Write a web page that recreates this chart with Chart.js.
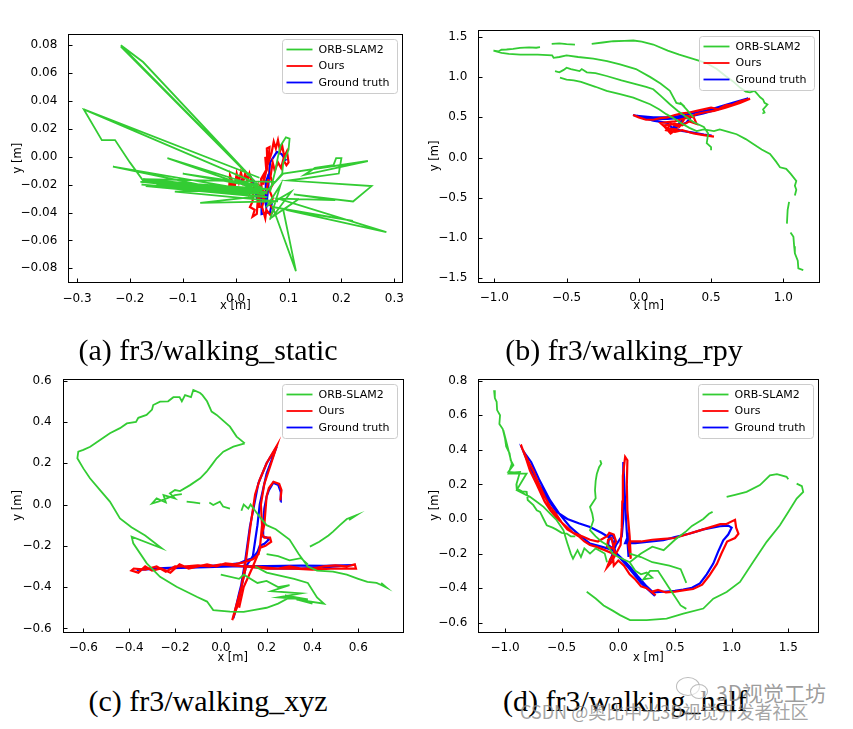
<!DOCTYPE html>
<html>
<head>
<meta charset="utf-8">
<script src="https://cdn.jsdelivr.net/npm/chart.js@4.4.1/dist/chart.umd.min.js"></script>
<style>
body{margin:0;background:#fff;width:853px;height:729px;overflow:hidden;position:relative}
.panel{position:absolute}
.cap{position:absolute;font-family:"Liberation Serif",serif;font-size:30px;line-height:34px;text-align:center;white-space:nowrap;color:#000}
.wm{position:absolute;font-family:"Noto Sans CJK SC",sans-serif;white-space:nowrap}
</style>
</head>
<body>
<div class="panel" style="left:0;top:20px"><canvas id="c1" width="420" height="300"></canvas></div>
<div class="panel" style="left:420px;top:20px"><canvas id="c2" width="433" height="300"></canvas></div>
<div class="panel" style="left:0;top:365px"><canvas id="c3" width="420" height="300"></canvas></div>
<div class="panel" style="left:420px;top:365px"><canvas id="c4" width="433" height="300"></canvas></div>

<div class="cap" style="left:8px;width:400px;top:333px">(a) fr3/walking_static</div>
<div class="cap" style="left:424px;width:400px;top:333px">(b) fr3/walking_rpy</div>
<div class="cap" style="left:8px;width:400px;top:684px">(c) fr3/walking_xyz</div>
<div class="cap" style="left:425px;width:400px;top:684px">(d) fr3/walking_half</div>

<div class="wm" style="left:676px;top:677px;width:22px;height:17px;border:1.5px solid #bbb;border-radius:50%;"></div>
<div class="wm" style="left:690px;top:684px;width:16px;height:13px;border:1.5px solid #bbb;border-radius:50%;background:rgba(255,255,255,0.6)"></div>
<div class="wm" style="left:716px;top:678px;font-size:21px;line-height:28px;color:rgba(140,140,140,0.85)">3D视觉工坊</div>
<div class="wm" style="left:520px;top:698px;font-size:18px;line-height:26px;color:rgba(140,140,140,0.8)">CSDN @奥比中光3D视觉开发者社区</div>

<script>
// ---- (a) fr3/walking_static ----
const staticXTicks = [-0.3, -0.2, -0.1, 0.0, 0.1, 0.2, 0.3];
const staticYTicks = [-0.08, -0.06, -0.04, -0.02, 0.0, 0.02, 0.04, 0.06, 0.08];
const staticOrb = [
  [0.065,-0.025],[0.075,-0.01],[0.08,0.0],[0.085,0.008],[0.095,0.014],[0.102,0.013],[0.1,0.005],[0.09,-0.004],[0.088,-0.012],[0.075,-0.018],
  [-0.175,-0.016],[0.05,-0.024],[-0.18,-0.018],[0.045,-0.026],[-0.178,-0.02],[0.055,-0.027],[-0.16,-0.017],[0.04,-0.023],[-0.17,-0.021],[0.06,-0.029],[-0.15,-0.02],[0.03,-0.025],[-0.14,-0.022],[0.02,-0.027],
  [-0.232,-0.007],[0.06,-0.026],[-0.129,-0.001],[0.05,-0.022],[-0.1,-0.012],[0.04,-0.02],
  [0.035,-0.017],[-0.217,0.080],[-0.175,0.068],[0.03,-0.015],[-0.217,0.079],[0.04,-0.019],
  [-0.287,0.034],[0.045,-0.015],[-0.287,0.034],[-0.253,0.012],[-0.228,0.012],[-0.2,-0.004],[-0.175,-0.017],[0.06,-0.023],
  [-0.115,-0.025],[0.08,-0.032],[-0.067,-0.033],[0.05,-0.028],
  [0.09,-0.012],[0.25,-0.003],[0.13,-0.013],[0.15,-0.008],[0.185,-0.006],[0.19,-0.001],[0.2,-0.001],[0.195,-0.012],[0.1,-0.017],
  [0.257,-0.021],[0.222,-0.032],[0.11,-0.027],[0.188,-0.031],[0.08,-0.03],
  [0.285,-0.054],[0.095,-0.038],[0.222,-0.046],[0.07,-0.036],[0.114,-0.082],[0.09,-0.038],[0.12,-0.03],[0.07,-0.043],[0.105,-0.025],[0.06,-0.035],[0.085,-0.02],[0.065,-0.045]
];
const staticOurs = [
  [-0.013,-0.026],[-0.011,-0.015],[-0.006,-0.025],[-0.008,-0.016],[-0.002,-0.022],[0.002,-0.012],[0.006,-0.018],[0.01,-0.011],[0.014,-0.018],[0.018,-0.012],
  [0.022,-0.017],[0.026,-0.012],[0.03,-0.018],[0.027,-0.026],[0.034,-0.022],[0.032,-0.032],[0.027,-0.036],[0.036,-0.038],[0.032,-0.043],[0.04,-0.041],
  [0.042,-0.03],[0.046,-0.036],[0.045,-0.022],[0.05,-0.028],[0.048,-0.016],[0.054,-0.012],[0.052,-0.02],[0.058,-0.01],[0.056,0.0],[0.06,-0.006],
  [0.059,0.006],[0.064,0.007],[0.062,-0.004],[0.068,0.003],[0.072,0.011],[0.076,0.006],[0.08,0.012],[0.084,0.004],[0.088,0.008],[0.092,0.0],
  [0.097,0.004],[0.1,-0.004],[0.096,-0.006],[0.09,-0.002],[0.086,-0.008],[0.08,-0.004],[0.074,-0.01],[0.07,-0.004],[0.066,-0.014],[0.07,-0.02],
  [0.064,-0.024],[0.07,-0.03],[0.064,-0.034],[0.072,-0.038],[0.066,-0.042],[0.058,-0.038],[0.056,-0.044],[0.05,-0.036],[0.054,-0.03],[0.05,-0.024],
  [0.058,-0.026],[0.062,-0.016]
];
const staticGt = [
  [-0.004,-0.023],[-0.002,-0.018],[0.01,-0.017],[0.021,-0.0145],[0.027,-0.0135],[0.033,-0.018],[0.04,-0.029],[0.046,-0.023],[0.049,-0.033],[0.049,-0.041],
  [0.058,-0.04],[0.065,-0.04],[0.068,-0.034],[0.059,-0.035],[0.056,-0.026],[0.057,-0.018],[0.062,-0.013],[0.06,-0.022],[0.055,-0.03],[0.058,-0.036],
  [0.062,-0.02],[0.065,-0.004],[0.072,0.0],[0.078,0.0035],[0.087,0.002],[0.093,-0.0015],[0.096,-0.0027]
];

// ---- (b) fr3/walking_rpy ----
const rpyXTicks = [-1.0, -0.5, 0.0, 0.5, 1.0];
const rpyYTicks = [-1.5, -1.0, -0.5, 0.0, 0.5, 1.0, 1.5];
const rpyOrb = [
  [-1.006,1.33],[-0.97,1.32],[-0.95,1.34],[-0.915,1.343],[-0.87,1.35],[-0.823,1.364],[-0.76,1.37],[-0.71,1.365],[-0.684,1.372], null,
  [-0.603,1.413],[-0.55,1.42],[-0.5,1.41],[-0.442,1.405], null,
  [-0.326,1.413],[-0.25,1.43],[-0.177,1.446],[-0.1,1.45],[-0.038,1.455],[0.02,1.44],[0.1,1.405],[0.2,1.33],[0.28,1.28],[0.37,1.23],[0.464,1.178],
  [0.54,1.1],[0.6,1.014],[0.65,0.95],[0.7,0.87],[0.74,0.82],[0.77,0.81],[0.8,0.83],[0.815,0.8],[0.84,0.75],[0.86,0.72],[0.87,0.68],[0.89,0.66],[0.86,0.6],[0.87,0.56],[0.855,0.55], null,
  [-1.006,1.33],[-0.95,1.3],[-0.9,1.29],[-0.82,1.28],[-0.7,1.28],[-0.6,1.27],[-0.59,1.24],[-0.55,1.25],[-0.5,1.27],[-0.42,1.25],[-0.315,1.23],
  [-0.22,1.2],[-0.13,1.158],[-0.02,1.1],[0.08,1.0],[0.15,0.92],[0.215,0.83],[0.26,0.68],[0.3,0.66],[0.285,0.685],[0.33,0.6],[0.378,0.5], null,
  [-0.58,1.075],[-0.55,1.06],[-0.52,1.09],[-0.5,1.117],[-0.47,1.1],[-0.41,1.075],[-0.395,1.1],[-0.36,1.06],[-0.3,1.05],[-0.223,1.014],[-0.12,0.96],
  [-0.015,0.91],[0.05,0.88],[0.1,0.849],[0.15,0.77],[0.215,0.663],[0.27,0.58],[0.331,0.5],[0.38,0.44],[0.45,0.38],[0.48,0.3],[0.47,0.18],[0.5,0.13],[0.5,0.09], null,
  [-0.546,0.993],[-0.5,0.97],[-0.45,0.96],[-0.4,0.94],[-0.3,0.88],[-0.223,0.828],[-0.13,0.79],[-0.038,0.746],[0.078,0.663],[0.14,0.6],[0.19,0.54],
  [0.25,0.48],[0.3,0.42],[0.35,0.37],[0.4,0.33],[0.45,0.35],[0.52,0.33],[0.56,0.35],[0.62,0.32],[0.677,0.29],[0.74,0.23],[0.792,0.17],[0.85,0.1],
  [0.908,0.045],[0.95,-0.05],[0.977,-0.12],[1.02,-0.14],[1.05,-0.2],[1.09,-0.29],[1.08,-0.35],[1.09,-0.4],[1.08,-0.47], null,
  [1.04,-0.55],[1.03,-0.65],[1.025,-0.82], null,
  [1.05,-0.93],[1.07,-0.985],[1.075,-1.1],[1.08,-1.19],[1.1,-1.28],[1.104,-1.376],[1.138,-1.397]
];
const rpyOurs = [
  [-0.04,0.53],[0.0,0.5],[0.05,0.47],[0.1,0.47],[0.15,0.49],[0.2,0.5],[0.25,0.53],[0.3,0.55],[0.35,0.56],[0.4,0.58],[0.5,0.62],[0.55,0.6],
  [0.6,0.65],[0.65,0.66],[0.7,0.7],[0.77,0.73],[0.7,0.68],[0.6,0.62],[0.52,0.58],[0.45,0.56],[0.4,0.54],[0.35,0.5],[0.3,0.48],[0.25,0.45],
  [0.2,0.44],[0.15,0.43],[0.18,0.38],[0.22,0.3],[0.26,0.35],[0.2,0.36],[0.17,0.4],[0.25,0.42],[0.3,0.4],[0.35,0.45],[0.4,0.42],[0.38,0.5],
  [0.33,0.52],[0.28,0.38],[0.22,0.42],[0.19,0.34],[0.25,0.32],[0.3,0.34],[0.38,0.3],[0.45,0.28],[0.52,0.26]
];
const rpyGt = [
  [-0.04,0.53],[0.05,0.49],[0.1,0.478],[0.2,0.48],[0.331,0.5],[0.4,0.53],[0.446,0.55],[0.55,0.6],[0.65,0.66],[0.758,0.738],[0.65,0.68],[0.5,0.6],
  [0.4,0.56],[0.3,0.52],[0.193,0.5],[0.1,0.5],[-0.015,0.52],[0.1,0.46],[0.2,0.43],[0.238,0.355],[0.27,0.39],[0.331,0.437],[0.366,0.52],
  [0.343,0.56],[0.32,0.5],[0.262,0.396],[0.23,0.37],[0.3,0.33],[0.366,0.313],[0.45,0.285],[0.504,0.272]
];

// ---- (c) fr3/walking_xyz ----
const xyzXTicks = [-0.6, -0.4, -0.2, 0.0, 0.2, 0.4, 0.6];
const xyzYTicks = [-0.6, -0.4, -0.2, 0.0, 0.2, 0.4, 0.6];
const xyzOrb = [
  [0.105,0.296],[0.069,0.329],[0.04,0.377],[-0.018,0.434],[-0.04,0.45],[-0.06,0.5],[-0.08,0.53],[-0.09,0.54],[-0.12,0.555],[-0.13,0.52],[-0.156,0.53],
  [-0.17,0.5],[-0.18,0.52],[-0.207,0.52],[-0.23,0.5],[-0.265,0.498],[-0.295,0.482],[-0.3,0.46],[-0.324,0.434],[-0.36,0.42],[-0.37,0.4],[-0.41,0.393],
  [-0.44,0.37],[-0.484,0.345],[-0.527,0.312],[-0.57,0.28],[-0.6,0.265],[-0.622,0.256],[-0.626,0.224],[-0.6,0.175],[-0.571,0.127],[-0.527,0.07],
  [-0.484,0.014],[-0.44,-0.067],[-0.39,-0.11],[-0.33,-0.15],[-0.258,-0.212],[-0.389,-0.156],[-0.382,-0.188],[-0.323,-0.285],[-0.265,-0.35],
  [-0.193,-0.398],[-0.105,-0.447],[-0.06,-0.47],[-0.033,-0.511],[0.04,-0.519],[0.1,-0.52],[0.142,-0.511],[0.2,-0.5],[0.25,-0.48],[0.3,-0.45], null,
  [0.105,0.296],[0.055,0.28],[0.011,0.256],[-0.018,0.224],[-0.04,0.191],[-0.062,0.159],[-0.09,0.127],[-0.134,0.094],[-0.178,0.065],[-0.2,0.07],
  [-0.222,0.054],[-0.2,0.03],[-0.25,0.046],[-0.24,0.01],[-0.28,0.03],[-0.3,0.005],[-0.27,0.015],[-0.2,0.045],[-0.17,0.05], null,
  [-0.149,0.014],[-0.12,0.01],[-0.09,0.006], null, [-0.05,0.01],[-0.033,-0.002],[-0.004,0.014],[0.01,-0.01],[0.04,-0.02], null,
  [0.09,-0.03],[0.1,0.0],[0.12,-0.02],[0.13,0.0],[0.15,-0.03],[0.17,-0.06],[0.2,-0.1],[0.24,-0.12],[0.3,-0.17],[0.34,-0.24],[0.38,-0.3],
  [0.42,-0.32],[0.49,-0.325],[0.55,-0.34],[0.6,-0.36],[0.64,-0.375],[0.68,-0.38],[0.7,-0.39],[0.724,-0.403],[0.7,-0.38], null,
  [0.389,-0.204],[0.43,-0.18],[0.47,-0.15],[0.49,-0.131],[0.52,-0.1],[0.55,-0.07],[0.593,-0.051],[0.56,-0.075],[0.58,-0.06], null,
  [0.2,-0.24],[0.25,-0.25],[0.3,-0.27],[0.35,-0.26],[0.38,-0.29], null,
  [0.0,-0.34],[0.08,-0.36],[0.1,-0.34],[0.16,-0.38],[0.2,-0.37],[0.25,-0.4],[0.3,-0.39],[0.22,-0.42],[0.35,-0.43],[0.25,-0.45],[0.38,-0.46],
  [0.28,-0.44],[0.4,-0.48],[0.33,-0.46],[0.45,-0.48],[0.42,-0.45],[0.38,-0.38],[0.32,-0.36],[0.2,-0.33],[0.15,-0.3]
];
const xyzOurs = [
  [0.26,0.02],[0.265,0.07],[0.255,0.1],[0.23,0.11],[0.21,0.08],[0.2,0.04],[0.195,-0.03],[0.19,-0.1],[0.18,-0.14],[0.19,-0.16],[0.215,-0.16],
  [0.22,-0.18],[0.195,-0.2],[0.17,-0.21],[0.165,-0.24],[0.14,-0.265],[0.1,-0.28],[0.06,-0.29],[0.02,-0.285],[-0.02,-0.3],[-0.06,-0.29],[-0.1,-0.3],
  [-0.14,-0.31],[-0.18,-0.29],[-0.2,-0.31],[-0.22,-0.33],[-0.26,-0.31],[-0.3,-0.32],[-0.33,-0.3],[-0.36,-0.33],[-0.39,-0.32],[-0.38,-0.31],
  [-0.33,-0.315],[-0.28,-0.3],[-0.24,-0.325],[-0.2,-0.3],[-0.15,-0.3],[-0.1,-0.295],[-0.05,-0.3],[0.0,-0.29],[0.05,-0.295],[0.1,-0.3],[0.15,-0.3],
  [0.2,-0.305],[0.25,-0.31],[0.3,-0.3],[0.35,-0.31],[0.4,-0.31],[0.45,-0.3],[0.5,-0.295],[0.55,-0.3],[0.585,-0.29],[0.59,-0.31],[0.5,-0.31],
  [0.4,-0.315],[0.3,-0.31],[0.2,-0.31],[0.11,-0.3],[0.09,-0.4],[0.07,-0.48],[0.05,-0.56],[0.07,-0.5],[0.09,-0.4],[0.11,-0.27],[0.13,-0.1],
  [0.15,0.05],[0.17,0.12],[0.2,0.2],[0.245,0.285],[0.22,0.2],[0.19,0.1],[0.175,0.0],[0.18,-0.1],[0.17,-0.22],[0.14,-0.3],[0.1,-0.4],[0.08,-0.5]
];
const xyzGt = [
  [0.261,0.014],[0.262,0.06],[0.251,0.094],[0.229,0.106],[0.21,0.07],[0.2,0.038],[0.19,-0.02],[0.185,-0.1],[0.185,-0.156],[0.2,-0.16],[0.21,-0.17],
  [0.19,-0.19],[0.17,-0.2],[0.16,-0.23],[0.14,-0.26],[0.113,-0.269],[0.08,-0.285],[0.0,-0.295],[-0.1,-0.3],[-0.2,-0.305],[-0.3,-0.31],[-0.367,-0.317],
  [-0.25,-0.31],[-0.1,-0.305],[0.05,-0.3],[0.2,-0.298],[0.35,-0.296],[0.45,-0.297],[0.578,-0.293],[0.45,-0.305],[0.35,-0.31],[0.215,-0.309],
  [0.11,-0.3],[0.08,-0.43],[0.055,-0.551],[0.08,-0.45],[0.105,-0.285],[0.127,-0.108],[0.164,0.103],[0.2,0.2],[0.244,0.28],[0.2,0.15],[0.17,0.0],
  [0.16,-0.1],[0.14,-0.25],[0.11,-0.3],[0.07,-0.5]
];

// ---- (d) fr3/walking_half ----
const halfXTicks = [-1.0, -0.5, 0.0, 0.5, 1.0, 1.5];
const halfYTicks = [-0.6, -0.4, -0.2, 0.0, 0.2, 0.4, 0.6, 0.8];
const halfOrb = [
  [-1.097,0.745],[-1.09,0.7],[-1.074,0.678],[-1.07,0.63],[-1.044,0.6],[-1.05,0.55],[-1.02,0.52],[-1.0,0.465],[-0.99,0.42],[-0.96,0.38],
  [-0.95,0.34],[-0.926,0.311],[-0.971,0.272],[-0.92,0.27],[-0.868,0.272],[-0.9,0.2],[-0.897,0.176],[-0.85,0.16],[-0.809,0.157],[-0.8,0.11],
  [-0.75,0.08],[-0.72,0.05],[-0.691,0.041],[-0.66,0.0],[-0.632,-0.036],[-0.58,-0.05],[-0.55,-0.06],[-0.5,-0.08],[-0.456,-0.084],[-0.42,-0.1],[-0.38,-0.1], null,
  [-1.015,0.514],[-0.99,0.45],[-0.94,0.32],[-0.97,0.263],[-0.81,0.263],[-0.897,0.167],[-0.78,0.128],[-0.72,0.1],[-0.66,0.07],[-0.6,0.03],
  [-0.544,-0.007],[-0.485,-0.065],[-0.45,-0.14],[-0.42,-0.2],[-0.4,-0.23],[-0.36,-0.18],[-0.33,-0.22],[-0.3,-0.17],[-0.25,-0.2],[-0.2,-0.17],[-0.12,-0.2],[-0.1,-0.25], null,
  [-0.16,0.34],[-0.15,0.32],[-0.17,0.3],[-0.19,0.26],[-0.2,0.22],[-0.206,0.167],[-0.2,0.12],[-0.25,0.07],[-0.23,0.03],[-0.22,-0.007],[-0.25,-0.065],
  [-0.2,-0.1],[-0.15,-0.13],[-0.1,-0.15],[-0.05,-0.2],[0.0,-0.22],[0.1,-0.25],[0.15,-0.3],[0.2,-0.32],[0.25,-0.31],[0.3,-0.34],[0.22,-0.35],
  [0.28,-0.3],[0.35,-0.3],[0.4,-0.35],[0.45,-0.4],[0.5,-0.45],[0.55,-0.5],[0.6,-0.52], null,
  [0.1,-0.2],[0.2,-0.22],[0.3,-0.25],[0.45,-0.27],[0.55,-0.29],[0.6,-0.37], null,
  [0.1,-0.25],[0.2,-0.2],[0.3,-0.16],[0.4,-0.18],[0.5,-0.12],[0.6,-0.07],[0.65,-0.04],[0.7,-0.02],[0.75,0.0],[0.8,0.03],[0.832,0.041], null,
  [-0.279,-0.421],[-0.2,-0.46],[-0.13,-0.5],[-0.05,-0.53],[0.015,-0.556],[0.103,-0.585],[0.25,-0.585],[0.426,-0.576],[0.574,-0.547],[0.75,-0.518],
  [0.838,-0.461],[0.956,-0.422],[1.074,-0.364],[1.191,-0.248],[1.309,-0.132],[1.426,-0.036],[1.5,0.04],[1.574,0.118],[1.632,0.157],[1.62,0.19],[1.574,0.205], null,
  [0.956,0.128],[1.03,0.14],[1.132,0.157],[1.25,0.196],[1.338,0.253],[1.4,0.26],[1.485,0.244],[1.5,0.23]
];
const halfOurs = [
  [0.33,-0.44],[0.25,-0.4],[0.2,-0.39],[0.15,-0.35],[0.1,-0.32],[0.05,-0.27],[0.0,-0.24],[-0.04,-0.27],[-0.05,-0.2],[-0.12,-0.18],[-0.2,-0.16],
  [-0.25,-0.15],[-0.3,-0.13],[-0.35,-0.1],[-0.4,-0.08],[-0.45,-0.05],[-0.5,-0.02],[-0.55,0.03],[-0.6,0.07],[-0.65,0.13],[-0.7,0.2],[-0.75,0.28],
  [-0.8,0.34],[-0.85,0.41],[-0.86,0.43],[-0.82,0.36],[-0.78,0.28],[-0.72,0.2],[-0.65,0.1],[-0.6,0.05],[-0.55,0.01],[-0.5,-0.02],[-0.45,-0.06],
  [-0.4,-0.08],[-0.32,-0.1],[-0.25,-0.12],[-0.18,-0.13],[-0.1,-0.1],[-0.08,-0.08],[-0.04,-0.09],[-0.02,-0.13],[-0.05,-0.17],[-0.1,-0.16],
  [-0.09,-0.12],[-0.06,-0.11],[-0.03,-0.2],[-0.07,-0.23],[-0.1,-0.28],[-0.06,-0.25],[-0.02,-0.2],[0.02,-0.15],[0.03,-0.05],[0.035,0.1],
  [0.04,0.25],[0.06,0.36],[0.08,0.34],[0.075,0.2],[0.08,0.05],[0.1,-0.1],[0.11,-0.23],[0.09,-0.15],[0.1,-0.13],
  [0.2,-0.13],[0.3,-0.12],[0.4,-0.115],[0.5,-0.11],[0.6,-0.09],[0.7,-0.07],[0.8,-0.05],[0.9,-0.03],[0.95,-0.03],[1.03,-0.005],[1.04,-0.05],
  [1.06,-0.085],[1.03,-0.11],[0.96,-0.13],[0.91,-0.2],[0.87,-0.26],[0.8,-0.33],[0.74,-0.38],[0.66,-0.405],[0.6,-0.41],[0.5,-0.42],
  [0.42,-0.425],[0.35,-0.41],[0.3,-0.42]
];
const halfGt = [
  [0.324,-0.445],[0.2,-0.37],[0.1,-0.29],[-0.02,-0.2],[-0.044,-0.18],[-0.15,-0.16],[-0.25,-0.142],[-0.33,-0.1],[-0.426,-0.046],[-0.52,0.03],
  [-0.603,0.109],[-0.7,0.23],[-0.77,0.33],[-0.838,0.392],[-0.78,0.3],[-0.7,0.2],[-0.62,0.11],[-0.544,0.041],[-0.45,0.0],[-0.35,-0.025],
  [-0.25,-0.046],[-0.15,-0.08],[-0.088,-0.104],[-0.06,-0.09],[-0.03,-0.12],[-0.05,-0.17],[-0.09,-0.15],[-0.08,-0.1],[-0.05,-0.13],[-0.03,-0.18],
  [-0.06,-0.22],[-0.08,-0.26],[-0.05,-0.2],[-0.02,-0.15],[0.03,-0.1],[0.044,0.0],[0.044,0.33],[0.06,0.1],[0.074,-0.065],[0.09,-0.22],[0.085,-0.1],
  [0.06,-0.14],[0.15,-0.14],[0.25,-0.133],[0.397,-0.123],[0.5,-0.105],[0.632,-0.084],[0.75,-0.06],[0.897,-0.042],[0.97,-0.038],[1.0,-0.05],
  [0.97,-0.09],[0.926,-0.123],[0.88,-0.19],[0.838,-0.258],[0.78,-0.32],[0.72,-0.373],[0.65,-0.398],[0.573,-0.408],[0.5,-0.415],[0.397,-0.421],
  [0.309,-0.425],[0.25,-0.39],[0.17,-0.33],[0.103,-0.277],[0.05,-0.24],[-0.015,-0.2]
];

const LABELS = ['ORB-SLAM2', 'Ours', 'Ground truth'];
const COLORS = ['#33cc33', '#ff0000', '#0000ff'];
const WIDTHS = [1.8, 2.2, 2.2];

function pts(arr) {
  return arr.map(p => p ? {x: p[0], y: p[1]} : {x: null, y: null});
}

function fmt(v, d) {
  return (v < 0 ? '\u2212' : '') + Math.abs(v).toFixed(d);
}

// frame round the axes and inward tick marks, matplotlib style
const frame = {
  id: 'frame',
  afterDatasetsDraw(chart) {
    const {ctx, chartArea: a, scales: {x, y}} = chart;
    ctx.save();
    ctx.strokeStyle = '#000';
    ctx.lineWidth = 1;
    const L = Math.round(a.left) + 0.5, T = Math.round(a.top) + 0.5;
    const R = Math.round(a.right) + 0.5, B = Math.round(a.bottom) + 0.5;
    ctx.strokeRect(L, T, R - L, B - T);
    ctx.beginPath();
    x.ticks.forEach(t => {
      const p = Math.round(x.getPixelForValue(t.value)) + 0.5;
      ctx.moveTo(p, B); ctx.lineTo(p, B - 4);
    });
    y.ticks.forEach(t => {
      const p = Math.round(y.getPixelForValue(t.value)) + 0.5;
      ctx.moveTo(L, p); ctx.lineTo(L + 4, p);
    });
    ctx.stroke();
    ctx.restore();
  }
};

const boxLegend = {
  id: 'boxLegend',
  afterDraw(chart) {
    const {ctx, chartArea: a} = chart;
    const w = 115, h = 54;
    const x = Math.round(a.right - 5.5 - w) + 0.5, y = Math.round(a.top + 5.3) + 0.5;
    ctx.save();
    ctx.beginPath();
    ctx.roundRect(x, y, w, h, 3);
    ctx.fillStyle = 'rgba(255,255,255,0.8)';
    ctx.fill();
    ctx.strokeStyle = '#cccccc';
    ctx.lineWidth = 1;
    ctx.stroke();
    ctx.font = '11px "DejaVu Sans"';
    ctx.textBaseline = 'middle';
    chart.data.datasets.forEach((ds, i) => {
      const cy = y + 10 + i * 16.5;
      ctx.strokeStyle = ds.borderColor;
      ctx.lineWidth = 1.8;
      ctx.beginPath(); ctx.moveTo(x + 4, cy); ctx.lineTo(x + 30, cy); ctx.stroke();
      ctx.fillStyle = '#000';
      ctx.fillText(ds.label, x + 36, cy + 0.5);
    });
    ctx.restore();
  }
};

function panel(id, series, xt, yt, xd, yd, xr, yr, lay) {
  const tickFont = {family: 'DejaVu Sans', size: 12};
  const titleFont = {family: 'DejaVu Sans', size: 11.5};
  new Chart(document.getElementById(id), {
    type: 'scatter',
    data: {
      datasets: series.map((s, i) => ({
        label: LABELS[i], data: pts(s), showLine: true, spanGaps: false,
        borderColor: COLORS[i], backgroundColor: COLORS[i], borderWidth: WIDTHS[i],
        pointRadius: 0, tension: 0
      }))
    },
    options: {
      responsive: false, animation: false, devicePixelRatio: 1,
      layout: {padding: {left: 0, top: lay.top, right: lay.right, bottom: 0}},
      plugins: {legend: {display: false}, tooltip: {enabled: false}},
      scales: {
        x: {
          type: 'linear', min: xr[0], max: xr[1],
          grid: {display: false}, border: {display: false},
          afterBuildTicks: s => { s.ticks = xt.map(v => ({value: v})); },
          afterFit: s => { s.height = lay.xh; },
          ticks: {font: tickFont, color: '#000', padding: 1, maxRotation: 0, autoSkip: false, callback: v => fmt(v, xd)},
          title: {display: true, text: 'x [m]', font: titleFont, color: '#000', padding: {top: 0, bottom: lay.xtp}}
        },
        y: {
          type: 'linear', min: yr[0], max: yr[1],
          grid: {display: false}, border: {display: false},
          afterBuildTicks: s => { s.ticks = yt.map(v => ({value: v})); },
          afterFit: s => { s.width = lay.yw; },
          ticks: {font: tickFont, color: '#000', padding: 3, autoSkip: false, callback: v => fmt(v, yd)},
          title: {display: true, text: 'y [m]', font: titleFont, color: '#000', padding: {top: lay.ytp, bottom: 0}}
        }
      }
    },
    plugins: [frame, boxLegend]
  });
}

panel('c1', [staticOrb, staticOurs, staticGt], staticXTicks, staticYTicks, 1, 2,
  [-0.3164, 0.3151], [-0.090, 0.0881], {top: 14, right: 17.7, xh: 37.7, yw: 68.3, xtp: 7.1, ytp: 11.1});
panel('c2', [rpyOrb, rpyOurs, rpyGt], rpyXTicks, rpyYTicks, 1, 1,
  [-1.111, 1.247], [-1.542, 1.583], {top: 9, right: 34, xh: 38.3, yw: 58.3, xtp: 7.1, ytp: 8.1});
panel('c3', [xyzOrb, xyzOurs, xyzGt], xyzXTicks, xyzYTicks, 1, 1,
  [-0.690, 0.794], [-0.616, 0.608], {top: 14, right: 17.3, xh: 33.3, yw: 62.7, xtp: 0.4, ytp: 11.4});
panel('c4', [halfOrb, halfOurs, halfGt], halfXTicks, halfYTicks, 1, 1,
  [-1.236, 1.765], [-0.652, 0.810], {top: 14, right: 34.7, xh: 33.3, yw: 58.3, xtp: 0.4, ytp: 8.1});
</script>
</body>
</html>
